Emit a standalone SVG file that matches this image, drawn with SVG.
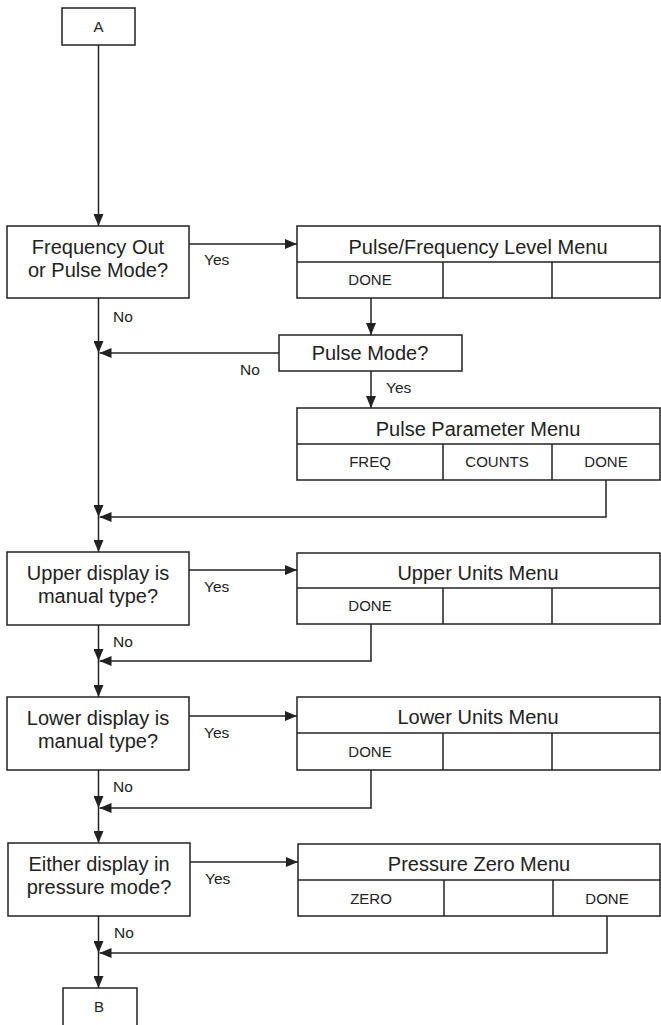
<svg xmlns="http://www.w3.org/2000/svg" width="661" height="1025" viewBox="0 0 661 1025">
<defs>
<marker id="ah" viewBox="0 0 12 10" refX="12" refY="5" markerWidth="12" markerHeight="10" markerUnits="userSpaceOnUse" orient="auto">
<path d="M0,0 L12,5 L0,10 Z" fill="#222"/>
</marker>
</defs>
<style>
rect{fill:#fff;stroke:#222;stroke-width:1.5}
line.d,path.d{stroke:#222;stroke-width:1.5;fill:none}
text{font-family:"Liberation Sans",Arial,sans-serif;fill:#222;text-anchor:middle}
.big{font-size:20px}
.sm{font-size:15px}
.lbl{font-size:15.5px;text-anchor:start}
.c{stroke:#222;stroke-width:1.5;fill:none}
.a{stroke:#222;stroke-width:1.5;fill:none;marker-end:url(#ah)}
</style>
<g id="connectors">
<line class="a" x1="98.5" y1="45" x2="98.5" y2="226"/>
<line class="a" x1="189" y1="244" x2="297" y2="244"/>
<line class="a" x1="98.5" y1="298" x2="98.5" y2="353"/>
<line class="a" x1="371" y1="298" x2="371" y2="335"/>
<line class="a" x1="279" y1="353" x2="99.5" y2="353"/>
<line class="a" x1="371" y1="371" x2="371" y2="408"/>
<line class="a" x1="98.5" y1="353" x2="98.5" y2="517"/>
<path class="a" d="M606,480 V517 H99.5"/>
<line class="a" x1="98.5" y1="517" x2="98.5" y2="552"/>
<line class="a" x1="189" y1="570" x2="297" y2="570"/>
<line class="a" x1="98.5" y1="625" x2="98.5" y2="661"/>
<path class="a" d="M371,624 V661 H99.5"/>
<line class="a" x1="98.5" y1="661" x2="98.5" y2="697"/>
<line class="a" x1="189" y1="716" x2="297" y2="716"/>
<line class="a" x1="98.5" y1="770" x2="98.5" y2="808"/>
<path class="a" d="M371,770 V808 H99.5"/>
<line class="a" x1="98.5" y1="808" x2="98.5" y2="843"/>
<line class="a" x1="190" y1="862" x2="298" y2="862"/>
<line class="a" x1="98.5" y1="916" x2="98.5" y2="953"/>
<path class="a" d="M607,916 V953 H99.5"/>
<line class="a" x1="98.5" y1="953" x2="98.5" y2="988"/>
<text class="lbl" x="204" y="265">Yes</text>
<text class="lbl" x="113" y="322">No</text>
<text class="lbl" x="240" y="375">No</text>
<text class="lbl" x="386" y="393">Yes</text>
<text class="lbl" x="204" y="592">Yes</text>
<text class="lbl" x="113" y="647">No</text>
<text class="lbl" x="204" y="738">Yes</text>
<text class="lbl" x="113" y="792">No</text>
<text class="lbl" x="205" y="884">Yes</text>
<text class="lbl" x="114" y="938">No</text>
</g>
<g id="nodeA">
<rect x="62" y="8" width="73" height="37"/>
<text class="sm" x="98.5" y="32">A</text>
</g>
<g id="freqOut">
<rect x="7" y="226" width="182" height="72"/>
<text class="big" x="98" y="254">Frequency Out</text>
<text class="big" x="98" y="277">or Pulse Mode?</text>
</g>
<g id="pulseFreqMenu">
<rect x="297" y="226" width="363" height="72"/>
<line class="c" x1="297" y1="262" x2="660" y2="262"/>
<line class="c" x1="443" y1="262" x2="443" y2="298"/>
<line class="c" x1="552" y1="262" x2="552" y2="298"/>
<text class="big" x="478" y="254">Pulse/Frequency Level Menu</text>
<text class="sm" x="370" y="285">DONE</text>
</g>
<g id="pulseMode">
<rect x="279" y="335" width="183" height="36"/>
<text class="big" x="370" y="360">Pulse Mode?</text>
</g>
<g id="pulseParamMenu">
<rect x="297" y="408" width="363" height="72"/>
<line class="c" x1="297" y1="444" x2="660" y2="444"/>
<line class="c" x1="443" y1="444" x2="443" y2="480"/>
<line class="c" x1="552" y1="444" x2="552" y2="480"/>
<text class="big" x="478" y="436">Pulse Parameter Menu</text>
<text class="sm" x="370" y="467">FREQ</text>
<text class="sm" x="497" y="467">COUNTS</text>
<text class="sm" x="606" y="467">DONE</text>
</g>
<g id="upperDisplay">
<rect x="7" y="552" width="182" height="73"/>
<text class="big" x="98" y="580">Upper display is</text>
<text class="big" x="98" y="603">manual type?</text>
</g>
<g id="upperUnitsMenu">
<rect x="297" y="553" width="363" height="71"/>
<line class="c" x1="297" y1="588" x2="660" y2="588"/>
<line class="c" x1="443" y1="588" x2="443" y2="624"/>
<line class="c" x1="552" y1="588" x2="552" y2="624"/>
<text class="big" x="478" y="580">Upper Units Menu</text>
<text class="sm" x="370" y="611">DONE</text>
</g>
<g id="lowerDisplay">
<rect x="7" y="697" width="182" height="73"/>
<text class="big" x="98" y="725">Lower display is</text>
<text class="big" x="98" y="748">manual type?</text>
</g>
<g id="lowerUnitsMenu">
<rect x="297" y="697" width="363" height="73"/>
<line class="c" x1="297" y1="733" x2="660" y2="733"/>
<line class="c" x1="443" y1="733" x2="443" y2="770"/>
<line class="c" x1="552" y1="733" x2="552" y2="770"/>
<text class="big" x="478" y="724">Lower Units Menu</text>
<text class="sm" x="370" y="757">DONE</text>
</g>
<g id="eitherDisplay">
<rect x="8" y="843" width="182" height="73"/>
<text class="big" x="99" y="871">Either display in</text>
<text class="big" x="99" y="894">pressure mode?</text>
</g>
<g id="pressureZeroMenu">
<rect x="298" y="844" width="362" height="72"/>
<line class="c" x1="298" y1="880" x2="660" y2="880"/>
<line class="c" x1="444" y1="880" x2="444" y2="916"/>
<line class="c" x1="553" y1="880" x2="553" y2="916"/>
<text class="big" x="479" y="871">Pressure Zero Menu</text>
<text class="sm" x="371" y="904">ZERO</text>
<text class="sm" x="607" y="904">DONE</text>
</g>
<g id="nodeB">
<rect x="63" y="988" width="74" height="40"/>
<text class="sm" x="99" y="1012">B</text>
</g>
</svg>
